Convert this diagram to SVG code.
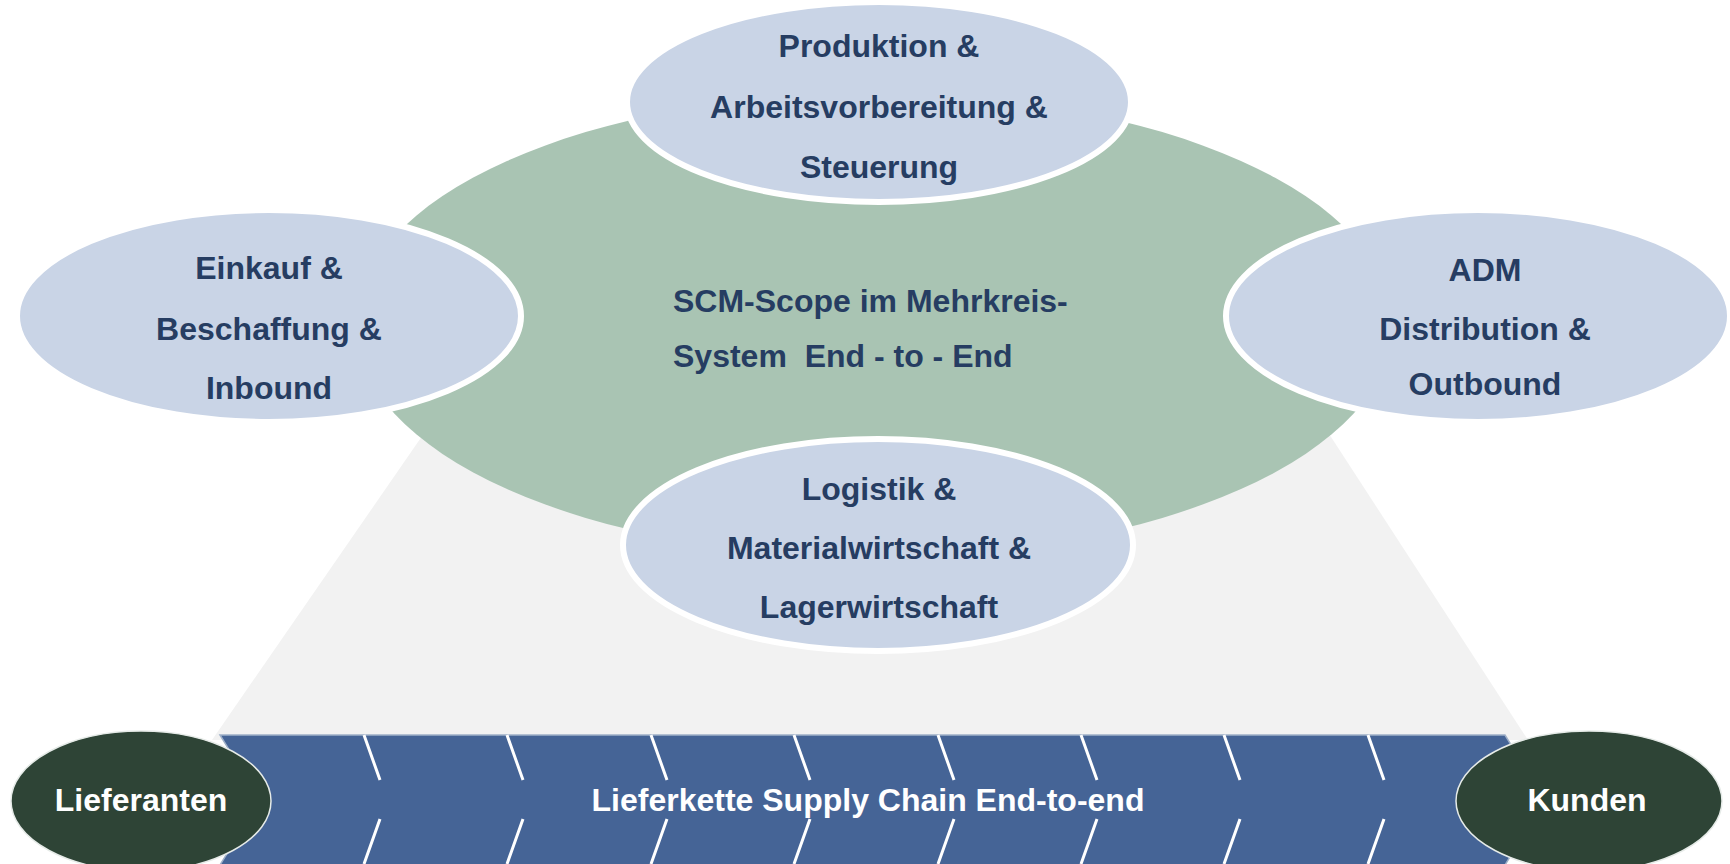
<svg xmlns="http://www.w3.org/2000/svg" width="1730" height="864" viewBox="0 0 1730 864">
  <style>
    .scope { fill: #a9c4b3; }
    .area { fill: #c9d4e6; stroke: #ffffff; stroke-width: 6; }
    .area-text { font-family: "Liberation Sans", Arial, sans-serif; font-weight: bold; font-size: 32px; fill: #263d62; text-anchor: middle; }
    .scope-text { font-family: "Liberation Sans", Arial, sans-serif; font-weight: bold; font-size: 32px; fill: #263d62; white-space: pre; }
    .chain { fill: #456496; stroke: #9fb0c8; stroke-width: 1.5; }
    .chain-text { font-family: "Liberation Sans", Arial, sans-serif; font-weight: bold; font-size: 32px; fill: #ffffff; text-anchor: middle; }
    .sep { stroke: #ffffff; stroke-width: 3; fill: none; }
    .party { fill: #2e4436; stroke: #e6ebe8; stroke-width: 1.5; }
  </style>

  <!-- funnel from the scope down to the supply chain -->
  <polygon id="funnel" points="447,400 1307,400 1528,740 212,740" fill="#f2f2f2"/>

  <!-- central scope circle -->
  <g id="scope">
    <ellipse class="scope" cx="874" cy="325" rx="519" ry="232"/>
    <text class="scope-text" x="673" y="312">SCM-Scope im Mehrkreis-</text>
    <text class="scope-text" x="673" y="367">System  End - to - End</text>
  </g>

  <g id="produktion">
    <ellipse class="area" cx="879" cy="102" rx="252" ry="100"/>
    <text class="area-text" x="879" y="57">Produktion &amp;</text>
    <text class="area-text" x="879" y="118">Arbeitsvorbereitung &amp;</text>
    <text class="area-text" x="879" y="178">Steuerung</text>
  </g>

  <g id="einkauf">
    <ellipse class="area" cx="269" cy="316" rx="252" ry="106"/>
    <text class="area-text" x="269" y="279">Einkauf &amp;</text>
    <text class="area-text" x="269" y="340">Beschaffung &amp;</text>
    <text class="area-text" x="269" y="399">Inbound</text>
  </g>

  <g id="distribution">
    <ellipse class="area" cx="1478" cy="316" rx="252" ry="106"/>
    <text class="area-text" x="1485" y="281">ADM</text>
    <text class="area-text" x="1485" y="340">Distribution &amp;</text>
    <text class="area-text" x="1485" y="395">Outbound</text>
  </g>

  <g id="logistik">
    <ellipse class="area" cx="878" cy="545" rx="255" ry="106"/>
    <text class="area-text" x="879" y="500">Logistik &amp;</text>
    <text class="area-text" x="879" y="559">Materialwirtschaft &amp;</text>
    <text class="area-text" x="879" y="618">Lagerwirtschaft</text>
  </g>

  <!-- supply chain bar -->
  <g id="chain">
    <polygon class="chain" points="220,735 1505,735 1545,800 1505,865 220,865 260,800"/>
    <g id="connectors">
      <path class="sep" d="M364,735 L380,780 M380,819 L364,864"/>
      <path class="sep" d="M507,735 L523,780 M523,819 L507,864"/>
      <path class="sep" d="M651,735 L667,780 M667,819 L651,864"/>
      <path class="sep" d="M794,735 L810,780 M810,819 L794,864"/>
      <path class="sep" d="M938,735 L954,780 M954,819 L938,864"/>
      <path class="sep" d="M1081,735 L1097,780 M1097,819 L1081,864"/>
      <path class="sep" d="M1224,735 L1240,780 M1240,819 L1224,864"/>
      <path class="sep" d="M1368,735 L1384,780 M1384,819 L1368,864"/>
    </g>
    <text class="chain-text" x="868" y="811">Lieferkette Supply Chain End-to-end</text>
  </g>

  <g id="lieferanten">
    <ellipse class="party" cx="141" cy="801" rx="130" ry="70"/>
    <text class="chain-text" x="141" y="811">Lieferanten</text>
  </g>

  <g id="kunden">
    <ellipse class="party" cx="1589" cy="801" rx="133" ry="70"/>
    <text class="chain-text" x="1587" y="811">Kunden</text>
  </g>
</svg>
